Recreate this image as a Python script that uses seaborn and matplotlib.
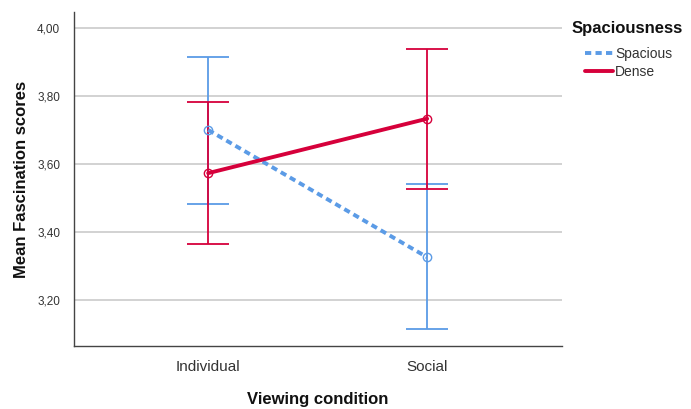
import matplotlib
matplotlib.use("Agg")

import matplotlib.pyplot as plt
import numpy as np
import pandas as pd
import seaborn as sns
from matplotlib.lines import Line2D

BLUE = "#5B9BE6"
RED = "#D6003B"
TEXT_GREY = "#333333"
GRID_GREY = "#CFCFCF"

CONDITIONS = ["Individual", "Social"]
GROUPS = ["Spacious", "Dense"]
SPACIOUS_MEAN = [3.700, 3.326]
SPACIOUS_LOW = [3.482, 3.114]
SPACIOUS_HIGH = [3.914, 3.540]
DENSE_MEAN = [3.573, 3.733]
DENSE_LOW = [3.364, 3.526]
DENSE_HIGH = [3.783, 3.939]
Y_TICKS = [3.2, 3.4, 3.6, 3.8, 4.0]
Y_TICK_LABELS = ["3,20", "3,40", "3,60", "3,80", "4,00"]

df = pd.DataFrame({
    "Viewing condition": CONDITIONS * 2,
    "Spaciousness": [GROUPS[0]] * 2 + [GROUPS[1]] * 2,
    "mean": SPACIOUS_MEAN + DENSE_MEAN,
    "low": SPACIOUS_LOW + DENSE_LOW,
    "high": SPACIOUS_HIGH + DENSE_HIGH,
})

sns.set_theme(style="whitegrid")
plt.rcParams["font.family"] = ["Liberation Sans", "DejaVu Sans"]

fig, ax = plt.subplots(figsize=(6.91, 4.09), dpi=100)
fig.subplots_adjust(left=0.107, right=0.813, bottom=0.154, top=0.971)

palette = {"Spacious": BLUE, "Dense": RED}
dash = (0, (1.6, 1.1))

sns.pointplot(
    data=df, x="Viewing condition", y="mean", hue="Spaciousness",
    hue_order=GROUPS, order=CONDITIONS, palette=palette,
    linestyles=[dash, "-"], markers=["o", "o"], errorbar=None,
    linewidth=2.8, markersize=6.0, markeredgewidth=1.0,
    markerfacecolor="none", legend=False, ax=ax, zorder=4,
)

# error bars
for grp in GROUPS:
    sub = df[df["Spaciousness"] == grp]
    xs = [CONDITIONS.index(c) for c in sub["Viewing condition"]]
    ax.errorbar(
        xs, sub["mean"],
        yerr=[sub["mean"] - sub["low"], sub["high"] - sub["mean"]],
        fmt="none", ecolor=palette[grp], elinewidth=1.3,
        capsize=15, capthick=1.3, zorder=3,
    )

ax.set_xlim(-0.613, 1.615)
ax.set_ylim(3.065, 4.047)
ax.set_yticks(Y_TICKS)
ax.set_yticklabels(Y_TICK_LABELS)
ax.tick_params(axis="y", labelsize=8.5, colors=TEXT_GREY, length=0, pad=10)
ax.tick_params(axis="x", labelsize=11, colors=TEXT_GREY, length=0, pad=10)
ax.grid(axis="y", color=GRID_GREY, linewidth=1.3)
ax.grid(axis="x", visible=False)
for side in ["top", "right"]:
    ax.spines[side].set_visible(False)
for side in ["left", "bottom"]:
    ax.spines[side].set_color("#444444")
    ax.spines[side].set_linewidth(1.0)

ax.set_xlabel("Viewing condition", fontsize=12, fontweight="bold", color="#111111", labelpad=13)
ax.set_ylabel("Mean Fascination scores", fontsize=12, fontweight="bold", color="#111111", labelpad=6)

fig.text(572 / 691, 1 - 29 / 409, "Spaciousness", fontsize=12, fontweight="bold",
         color="#111111", ha="left", va="center")
handles = [
    Line2D([], [], color=BLUE, linestyle=dash, linewidth=2.8),
    Line2D([], [], color=RED, linestyle="-", linewidth=2.8),
]
leg = fig.legend(
    handles, GROUPS, loc="upper left",
    bbox_to_anchor=(585 / 691, 1 - 47 / 409), frameon=False, fontsize=10,
    handlelength=2.0, handletextpad=0.15, labelspacing=0.3,
    borderpad=0, borderaxespad=0,
)
for t in leg.get_texts():
    t.set_color(TEXT_GREY)

fig.savefig("out.png", dpi=100)
